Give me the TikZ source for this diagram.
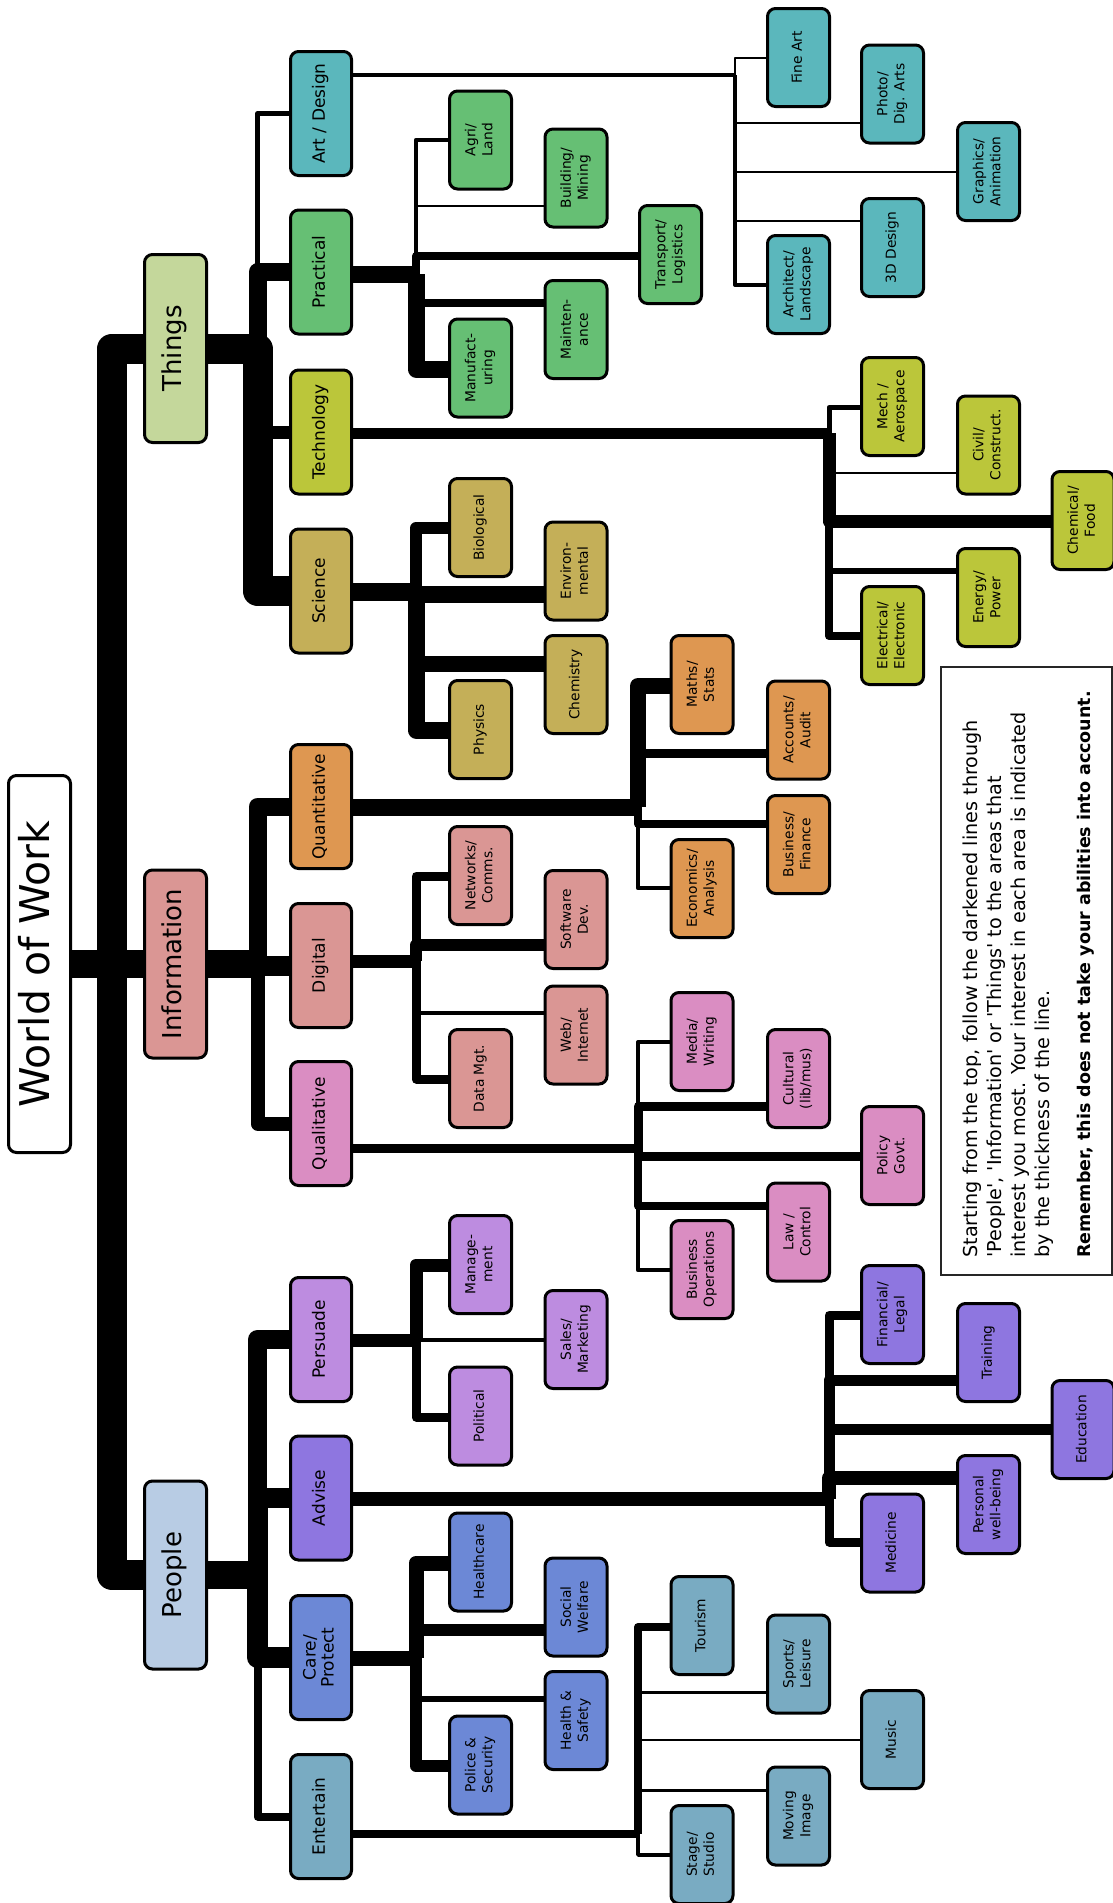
\documentclass[tikz,border=0pt]{standalone}
\usepackage{fontspec}
\setmainfont{DejaVu Sans}
\usepackage{xcolor}
\usepackage{graphicx}
\usepackage{tikz}
\pgfdeclarelayer{bg}
\pgfsetlayers{bg,main}

\definecolor{thingsc}{RGB}{196,215,155}
\definecolor{infoc}{RGB}{218,150,148}
\definecolor{peoplec}{RGB}{184,204,228}
\definecolor{artc}{RGB}{91,183,188}
\definecolor{practc}{RGB}{102,191,116}
\definecolor{techc}{RGB}{187,198,58}
\definecolor{scic}{RGB}{196,175,88}
\definecolor{quantc}{RGB}{222,151,81}
\definecolor{qualc}{RGB}{218,141,194}
\definecolor{persc}{RGB}{189,140,224}
\definecolor{advc}{RGB}{142,118,224}
\definecolor{carec}{RGB}{108,136,214}
\definecolor{entc}{RGB}{121,171,194}

\newcommand{\vlab}[1]{\rotatebox{90}{\begin{tabular}{@{}c@{}}#1\end{tabular}}}

\begin{document}
\begin{tikzpicture}[x=0.5pt, y=-0.5pt,
                box/.style={draw, line width=1.5pt, rounded corners=4pt, inner sep=0pt},
                rootbox/.style={box, fill=white, minimum width=31pt, minimum height=188.5pt, font=\fontsize{20.5}{24}\selectfont},
                groupbox/.style={box, minimum width=31pt, minimum height=94pt, font=\fontsize{13}{15}\selectfont},
                areabox/.style={box, minimum width=30.5pt, minimum height=62pt, font=\fontsize{8.5}{9}\selectfont},
                leafbox/.style={box, minimum width=31pt, minimum height=49pt, font=\fontsize{6.9}{8.5}\selectfont},
                wire/.style={line width=#1, line join=round}]
                \useasboundingbox (0,0) rectangle (1113,1903);
                \clip (0,0) rectangle (1113,1903);

                \node[rootbox] (world) at (39.5,964) {\vlab{World of Work}};
                \node[groupbox, fill=thingsc] (things) at (175.5,348.5) {\vlab{Things}};
                \node[groupbox, fill=infoc] (info) at (175.5,964) {\vlab{Information}};
                \node[groupbox, fill=peoplec] (people) at (175.5,1575) {\vlab{People}};

                \node[areabox, fill=artc] (art) at (321,113.5) {\vlab{Art / Design}};
                \node[areabox, fill=practc] (practical) at (321,272) {\vlab{Practical}};
                \node[areabox, fill=techc] (tech) at (321,432) {\vlab{Technology}};
                \node[areabox, fill=scic] (science) at (321,591) {\vlab{Science}};
                \node[areabox, fill=quantc] (quant) at (321,806.5) {\vlab{Quantitative}};
                \node[areabox, fill=infoc] (digital) at (321,965.5) {\vlab{Digital}};
                \node[areabox, fill=qualc] (qual) at (321,1123.5) {\vlab{Qualitative}};
                \node[areabox, fill=persc] (persuade) at (321,1339.5) {\vlab{Persuade}};
                \node[areabox, fill=advc] (advise) at (321,1498) {\vlab{Advise}};
                \node[areabox, fill=carec] (care) at (321,1657.5) {\vlab{Care/\\Protect}};
                \node[areabox, fill=entc] (entertain) at (321,1816.5) {\vlab{Entertain}};

                \node[leafbox, fill=artc] (fineart) at (798.5,57.5) {\vlab{Fine Art}};
                \node[leafbox, fill=artc] (photo) at (892.5,94) {\vlab{Photo/\\Dig. Arts}};
                \node[leafbox, fill=artc] (graphics) at (988.5,171.5) {\vlab{Graphics/\\Animation}};
                \node[leafbox, fill=artc] (design3d) at (892.5,247.5) {\vlab{3D Design}};
                \node[leafbox, fill=artc] (architect) at (798.5,284.5) {\vlab{Architect/\\Landscape}};

                \node[leafbox, fill=practc] (agri) at (480.5,140) {\vlab{Agri/\\Land}};
                \node[leafbox, fill=practc] (building) at (576,178) {\vlab{Building/\\Mining}};
                \node[leafbox, fill=practc] (transport) at (670.5,254.5) {\vlab{Transport/\\Logistics}};
                \node[leafbox, fill=practc] (mainten) at (576,329.5) {\vlab{Mainten-\\ance}};
                \node[leafbox, fill=practc] (manufact) at (480.5,368) {\vlab{Manufact-\\uring}};

                \node[leafbox, fill=techc] (mech) at (892.5,406.5) {\vlab{Mech /\\Aerospace}};
                \node[leafbox, fill=techc] (civil) at (988.5,445) {\vlab{Civil/\\Construct.}};
                \node[leafbox, fill=techc] (chemical) at (1083,520.5) {\vlab{Chemical/\\Food}};
                \node[leafbox, fill=techc] (energy) at (988.5,597.5) {\vlab{Energy/\\Power}};
                \node[leafbox, fill=techc] (electrical) at (892.5,635.5) {\vlab{Electrical/\\Electronic}};

                \node[leafbox, fill=scic] (bio) at (480.5,527.5) {\vlab{Biological}};
                \node[leafbox, fill=scic] (environ) at (576,571) {\vlab{Environ-\\mental}};
                \node[leafbox, fill=scic] (chemistry) at (576,684.5) {\vlab{Chemistry}};
                \node[leafbox, fill=scic] (physics) at (480.5,729.5) {\vlab{Physics}};

                \node[leafbox, fill=quantc] (maths) at (702,684.5) {\vlab{Maths/\\Stats}};
                \node[leafbox, fill=quantc] (accounts) at (798.5,730) {\vlab{Accounts/\\Audit}};
                \node[leafbox, fill=quantc] (business) at (798.5,844.5) {\vlab{Business/\\Finance}};
                \node[leafbox, fill=quantc] (economics) at (702,888.5) {\vlab{Economics/\\Analysis}};

                \node[leafbox, fill=infoc] (networks) at (480.5,875.5) {\vlab{Networks/\\Comms.}};
                \node[leafbox, fill=infoc] (software) at (576,919.5) {\vlab{Software\\Dev.}};
                \node[leafbox, fill=infoc] (web) at (576,1035) {\vlab{Web/\\Internet}};
                \node[leafbox, fill=infoc] (datamgt) at (480.5,1078.5) {\vlab{Data Mgt.}};

                \node[leafbox, fill=qualc] (media) at (702,1041.5) {\vlab{Media/\\Writing}};
                \node[leafbox, fill=qualc] (cultural) at (798.5,1078.5) {\vlab{Cultural\\(lib/mus)}};
                \node[leafbox, fill=qualc] (policy) at (892.5,1155.5) {\vlab{Policy\\Govt.}};
                \node[leafbox, fill=qualc] (law) at (798.5,1232) {\vlab{Law /\\Control}};
                \node[leafbox, fill=qualc] (busops) at (702,1269.5) {\vlab{Business\\Operations}};

                \node[leafbox, fill=persc] (manage) at (480.5,1264.5) {\vlab{Manage-\\ment}};
                \node[leafbox, fill=persc] (sales) at (576,1339.5) {\vlab{Sales/\\Marketing}};
                \node[leafbox, fill=persc] (political) at (480.5,1416) {\vlab{Political}};

                \node[leafbox, fill=advc] (financial) at (892.5,1314.5) {\vlab{Financial/\\Legal}};
                \node[leafbox, fill=advc] (training) at (988.5,1352.5) {\vlab{Training}};
                \node[leafbox, fill=advc] (education) at (1083,1429.5) {\vlab{Education}};
                \node[leafbox, fill=advc] (personal) at (988.5,1504.5) {\vlab{Personal\\well-being}};
                \node[leafbox, fill=advc] (medicine) at (892.5,1543) {\vlab{Medicine}};

                \node[leafbox, fill=carec] (health) at (480.5,1562) {\vlab{Healthcare}};
                \node[leafbox, fill=carec] (social) at (576,1607) {\vlab{Social\\Welfare}};
                \node[leafbox, fill=carec] (safety) at (576,1720.5) {\vlab{Health \&\\Safety}};
                \node[leafbox, fill=carec] (police) at (480.5,1765) {\vlab{Police \&\\Security}};

                \node[leafbox, fill=entc] (tourism) at (702,1625.5) {\vlab{Tourism}};
                \node[leafbox, fill=entc] (sports) at (798.5,1664) {\vlab{Sports/\\Leisure}};
                \node[leafbox, fill=entc] (music) at (892.5,1739.5) {\vlab{Music}};
                \node[leafbox, fill=entc] (moving) at (798.5,1816) {\vlab{Moving\\Image}};
                \node[leafbox, fill=entc] (stage) at (702,1854.5) {\vlab{Stage/\\Studio}};

                \draw[line width=0.6pt, draw=black!85] (941,667) rectangle (1112,1275);
                \node[rotate=90, anchor=north west, align=left, inner sep=0pt, font=\fontsize{9.6}{12}\selectfont] (note) at (963,1258)
                    {Starting from the top, follow the darkened lines through\\
                     \textquotesingle People\textquotesingle, \textquotesingle Information\textquotesingle\ or \textquotesingle Things\textquotesingle\ to the areas that\\
                     interest you most. Your interest in each area is indicated\\
                     by the thickness of the line.\\[8.5pt]
                     {\fontsize{8.75}{12}\selectfont\textbf{Remember, this does not take your abilities into account.}}};

                \coordinate (trunk) at (112,964);
                \coordinate (jthings) at (257.5,348.5);
                \coordinate (jinfo) at (257.5,964);
                \coordinate (jpeople) at (257.5,1575);
                \coordinate (jart) at (735,75);
                \coordinate (jprac) at (416,274);
                \coordinate (jtech) at (829,433);
                \coordinate (jsci) at (416,592);
                \coordinate (jquant) at (638,807);
                \coordinate (jdigi) at (416,961);
                \coordinate (jqual) at (638,1148);
                \coordinate (jpers) at (416,1340);
                \coordinate (jadv) at (829,1499);
                \coordinate (jcare) at (416,1658);
                \coordinate (jent) at (638,1834);

                \begin{pgfonlayer}{bg}
                \draw[wire=15pt] (things.west) -| (trunk) |- (people.west);
                \draw[wire=14pt] (world.east) -- (info.west);
                \draw[wire=14pt] (info.east) -- (jinfo);
                \draw[wire=15pt] (things.east) -- (jthings) |- (science.west);
                \draw[wire=9pt] (jthings) |- (practical.west);
                \draw[wire=2.25pt] (jthings) |- (art.west);
                \draw[wire=6.5pt] (jthings) |- (tech.west);
                \draw[wire=9pt] (jinfo) |- (quant.west);
                \draw[wire=10pt] (jinfo) |- (digital.west);
                \draw[wire=7pt] (jinfo) |- (qual.west);
                \draw[wire=14pt] (people.east) -- (jpeople);
                \draw[wire=10.5pt] (jpeople) |- (care.west);
                \draw[wire=10pt] (jpeople) |- (advise.west);
                \draw[wire=9.5pt] (jpeople) |- (persuade.west);
                \draw[wire=4pt] (jpeople) |- (entertain.west);

                \draw[wire=2.25pt] (art.east |- jart) -- (jart);
                \draw[wire=0.75pt] (jart) |- (fineart.west |- 0,58);
                \draw[wire=0.75pt] (jart) |- (photo.west |- 0,123);
                \draw[wire=0.75pt] (jart) |- (graphics.west |- 0,172);
                \draw[wire=0.75pt] (jart) |- (design3d.west |- 0,221);
                \draw[wire=2pt] (jart) |- (architect.west |- 0,285);

                \draw[wire=8.5pt] (practical.east |- jprac) -- (jprac);
                \draw[wire=2.25pt] (jprac) |- (agri.west |- 0,140);
                \draw[wire=0.75pt] (jprac) |- (building.west |- 0,206);
                \draw[wire=4pt] (jprac) |- (transport.west |- 0,256);
                \draw[wire=4pt] (jprac) |- (mainten.west |- 0,303);
                \draw[wire=8.5pt] (jprac) |- (manufact.west |- 0,369);

                \draw[wire=5.5pt] (tech.east |- jtech) -- (jtech);
                \draw[wire=2.5pt] (jtech) |- (mech.west |- 0,407.5);
                \draw[wire=0.75pt] (jtech) |- (civil.west |- 0,473);
                \draw[wire=6.5pt] (jtech) |- (chemical.west |- 0,521);
                \draw[wire=3pt] (jtech) |- (energy.west |- 0,571);
                \draw[wire=4pt] (jtech) |- (electrical.west |- 0,636);

                \draw[wire=9pt] (science.east |- jsci) -- (jsci);
                \draw[wire=6pt] (jsci) |- (bio.west |- 0,528);
                \draw[wire=8.5pt] (jsci) |- (environ.west |- 0,594);
                \draw[wire=8pt] (jsci) |- (chemistry.west |- 0,664);
                \draw[wire=8.5pt] (jsci) |- (physics.west |- 0,730);

                \draw[wire=8.5pt] (quant.east |- jquant) -- (jquant);
                \draw[wire=8pt] (jquant) |- (maths.west |- 0,686);
                \draw[wire=4.5pt] (jquant) |- (accounts.west |- 0,753);
                \draw[wire=4pt] (jquant) |- (business.west |- 0,824);
                \draw[wire=2.25pt] (jquant) |- (economics.west |- 0,888);

                \draw[wire=6.5pt] (digital.east |- jdigi) -- (jdigi);
                \draw[wire=4.5pt] (jdigi) |- (networks.west |- 0,876);
                \draw[wire=6pt] (jdigi) |- (software.west |- 0,945);
                \draw[wire=2pt] (jdigi) |- (web.west |- 0,1013);
                \draw[wire=4.5pt] (jdigi) |- (datamgt.west |- 0,1079);

                \draw[wire=4.5pt] (qual.east |- jqual) -- (jqual);
                \draw[wire=2pt] (jqual) |- (media.west |- 0,1042);
                \draw[wire=4.5pt] (jqual) |- (cultural.west |- 0,1106);
                \draw[wire=4.5pt] (jqual) |- (policy.west |- 0,1156);
                \draw[wire=4pt] (jqual) |- (law.west |- 0,1206);
                \draw[wire=2.25pt] (jqual) |- (busops.west |- 0,1270);

                \draw[wire=6.5pt] (persuade.east |- jpers) -- (jpers);
                \draw[wire=6.5pt] (jpers) |- (manage.west |- 0,1265);
                \draw[wire=2.25pt] (jpers) |- (sales.west |- 0,1340);
                \draw[wire=4.5pt] (jpers) |- (political.west |- 0,1417);

                \draw[wire=7pt] (advise.east |- jadv) -- (jadv);
                \draw[wire=4.5pt] (jadv) |- (financial.west |- 0,1315);
                \draw[wire=5.5pt] (jadv) |- (training.west |- 0,1380);
                \draw[wire=5.5pt] (jadv) |- (education.west |- 0,1429);
                \draw[wire=7pt] (jadv) |- (personal.west |- 0,1478);
                \draw[wire=4.5pt] (jadv) |- (medicine.west |- 0,1542);

                \draw[wire=7.5pt] (care.east |- jcare) -- (jcare);
                \draw[wire=7.5pt] (jcare) |- (health.west |- 0,1563);
                \draw[wire=6pt] (jcare) |- (social.west |- 0,1630);
                \draw[wire=2.75pt] (jcare) |- (safety.west |- 0,1699);
                \draw[wire=6pt] (jcare) |- (police.west |- 0,1766);

                \draw[wire=4pt] (entertain.east |- jent) -- (jent);
                \draw[wire=4pt] (jent) |- (tourism.west |- 0,1627);
                \draw[wire=1.5pt] (jent) |- (sports.west |- 0,1692.5);
                \draw[wire=0.75pt] (jent) |- (music.west |- 0,1740);
                \draw[wire=1.5pt] (jent) |- (moving.west |- 0,1790);
                \draw[wire=1.75pt] (jent) |- (stage.west |- 0,1855);
                \end{pgfonlayer}
            \end{tikzpicture}
\end{document}
